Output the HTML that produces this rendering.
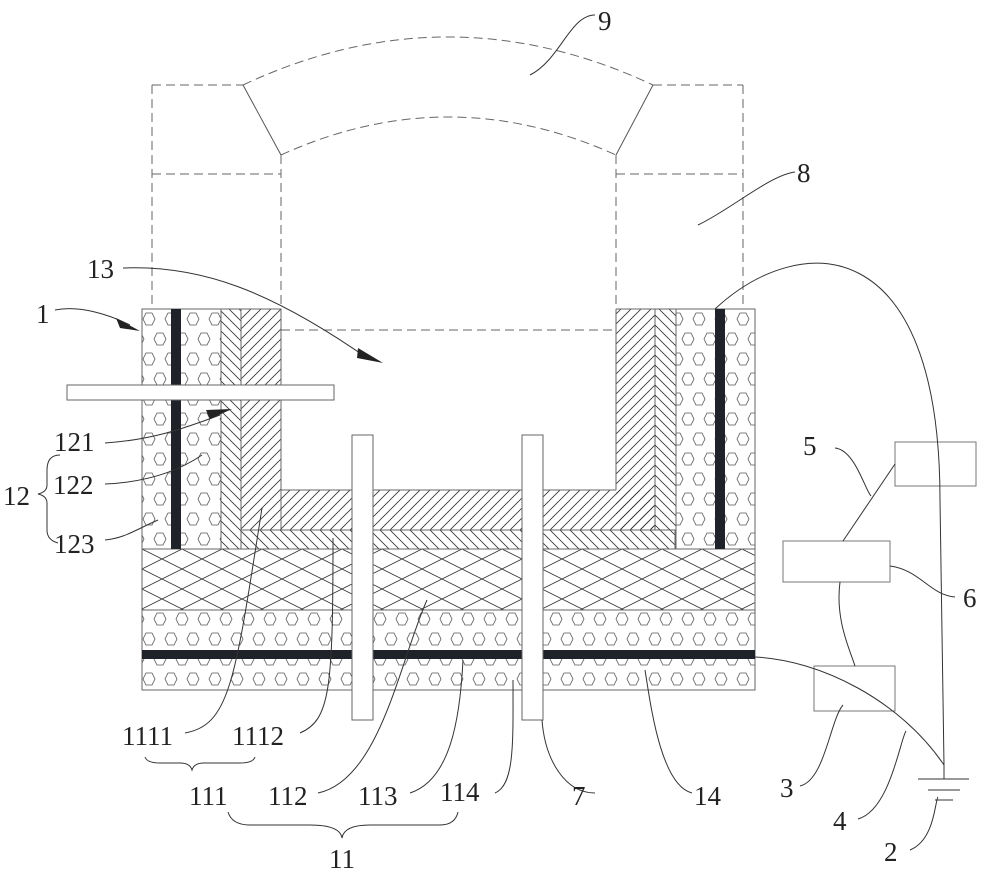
<!DOCTYPE html>
<html><head><meta charset="utf-8"><style>
html,body{margin:0;padding:0;background:#fff;}
svg{display:block;}
text{font-family:"Liberation Serif",serif;font-size:27px;fill:#222;}
</style></head><body>
<svg width="1000" height="877" viewBox="0 0 1000 877" xmlns="http://www.w3.org/2000/svg">
<defs>
<pattern id="hex" width="22" height="40" patternUnits="userSpaceOnUse" x="142" y="312">
<polygon points="4,1 10,1 13,7 10,13 4,13 1,7" fill="none" stroke="#555" stroke-width="0.8"/>
<polygon points="15,21 21,21 24,27 21,33 15,33 12,27" fill="none" stroke="#555" stroke-width="0.8"/>
<polygon points="-7,21 -1,21 2,27 -1,33 -7,33 -10,27" fill="none" stroke="#555" stroke-width="0.8"/>
</pattern>
<pattern id="fw" width="10" height="10" patternUnits="userSpaceOnUse">
<path d="M-2,12 L12,-2 M-2,2 L2,-2 M8,12 L12,8" stroke="#333" stroke-width="0.8"/>
</pattern>
<pattern id="bw" width="10" height="10" patternUnits="userSpaceOnUse">
<path d="M-2,-2 L12,12 M-2,8 L2,12 M8,-2 L12,2" stroke="#333" stroke-width="0.8"/>
</pattern>
<pattern id="cross" width="40" height="20" patternUnits="userSpaceOnUse" x="142" y="549">
<path d="M0,0 L40,20 M0,20 L40,0" stroke="#333" stroke-width="0.8" fill="none"/>
</pattern>
</defs>

<g stroke="#666" stroke-width="1" fill="none" stroke-dasharray="9,5">
<path d="M152,85 L152,309 M743,85 L743,309"/>
<path d="M152,85 L243,85 M653,85 L743,85"/>
<path d="M152,174 L281,174 M616,174 L743,174"/>
<path d="M281,155 L281,330 M616,155 L616,309"/>
<path d="M281,330 L616,330"/>
<path d="M243,85 Q448,-11 653,85"/>
<path d="M281,155 Q448,79 616,155"/>
</g>
<path d="M243,85 L281,155 M653,85 L616,155" stroke="#555" stroke-width="1"/>

<g stroke="#666" stroke-width="1">
<rect x="142" y="549" width="613" height="61" fill="url(#cross)"/>
<rect x="142" y="610" width="613" height="80" fill="url(#hex)"/>
<rect x="142" y="309" width="79" height="240" fill="url(#hex)"/>
<rect x="221" y="309" width="20" height="240" fill="url(#bw)"/>
<rect x="241" y="309" width="40" height="221" fill="url(#fw)"/>
<rect x="281" y="490" width="374" height="40" fill="url(#fw)" stroke="none"/>
<rect x="241" y="530" width="434" height="19" fill="url(#bw)"/>
<path d="M281,490 L616,490" fill="none"/>
<rect x="616" y="309" width="39" height="221" fill="url(#fw)" stroke="none"/>
<path d="M616,309 L616,490 M655,309 L655,530 M241,530 L655,530" fill="none"/>
<rect x="655" y="309" width="21" height="221" fill="url(#bw)" stroke="none"/>
<rect x="676" y="309" width="79" height="240" fill="url(#hex)"/>
<path d="M616,309 L676,309 M281,309 L281,490" fill="none"/>
</g>

<rect x="171" y="309" width="10" height="76" fill="#1f2228"/>
<rect x="171" y="400" width="10" height="149" fill="#1f2228"/>
<rect x="715" y="309" width="10" height="240" fill="#1f2228"/>
<rect x="142" y="650" width="613" height="9" fill="#1f2228"/>

<rect x="67" y="385" width="267" height="15" fill="#fff" stroke="#666"/>
<rect x="352" y="435" width="21" height="285" fill="#fff" stroke="#666"/>
<rect x="522" y="435" width="21" height="285" fill="#fff" stroke="#666"/>

<g fill="#fff" stroke="#777" stroke-width="1">
<rect x="895" y="442" width="81" height="44"/>
<rect x="783" y="541" width="107" height="41"/>
<rect x="814" y="666" width="81" height="45"/>
</g>
<g fill="none" stroke="#333" stroke-width="1">
<path d="M715,309 C800,230 940,230 940,500 L944,765"/>
<path d="M755,657 C820,660 900,700 944,765"/>
<path d="M944,765 L944,779"/>
<path d="M918,779 L969,779 M928,790 L960,790 M935,800 L953,800"/>
<path d="M895,464 L843,541"/>
<path d="M840,582 C835,620 850,650 855,666"/>
<path d="M835,448 C855,450 865,490 871,496"/>
<path d="M890,566 C920,570 930,595 955,597"/>
<path d="M800,786 C825,780 830,720 843,705"/>
<path d="M858,819 C890,810 900,740 906,731"/>
<path d="M910,850 C935,840 935,800 938,797"/>
<path d="M530,75 C560,60 570,15 595,15"/>
<path d="M698,225 C730,210 770,175 795,172"/>
<path d="M55,310 C80,305 110,315 130,325"/>
<path d="M123,268 C200,265 270,290 370,360"/>
<path d="M105,443 C150,440 180,430 220,415"/>
<path d="M105,484 C150,482 180,470 202,455"/>
<path d="M105,540 C125,538 135,530 158,520"/>
<path d="M185,733 C230,725 235,680 262,508"/>
<path d="M300,733 C330,720 333,690 333,538"/>
<path d="M318,793 C380,780 400,660 427,600"/>
<path d="M410,793 C450,780 460,720 463,660"/>
<path d="M495,793 C515,785 513,740 513,680"/>
<path d="M595,793 C565,793 545,760 542,720"/>
<path d="M692,793 C660,785 650,700 645,670"/>
<path d="M145,757 Q147,763 160,763 L180,763 Q190,763 192,770 Q194,763 204,763 L240,763 Q253,763 255,757"/>
<path d="M228,812 Q232,825 250,825 L310,825 Q340,825 342,838 Q344,825 370,825 L440,825 Q455,825 458,812"/>
<path d="M60,455 Q47,455 47,470 L47,485 Q47,492 38,494 Q47,496 47,503 L47,530 Q47,540 58,543"/>
</g>
<polygon points="140,331 116,318 120,328" fill="#222"/>
<polygon points="383,363 358,348 357,358" fill="#222"/>
<polygon points="232,409 206,410 210,419" fill="#222"/>

<text x="598" y="30">9</text>
<text x="797" y="182">8</text>
<text x="87" y="278">13</text>
<text x="36" y="323">1</text>
<text x="54" y="451">121</text>
<text x="53" y="494">122</text>
<text x="3" y="505">12</text>
<text x="54" y="553">123</text>
<text x="803" y="455">5</text>
<text x="963" y="607">6</text>
<text x="780" y="797">3</text>
<text x="833" y="830">4</text>
<text x="884" y="861">2</text>
<text x="122" y="745">1111</text>
<text x="232" y="745">1112</text>
<text x="189" y="805">111</text>
<text x="268" y="805">112</text>
<text x="358" y="805">113</text>
<text x="440" y="801">114</text>
<text x="572" y="805">7</text>
<text x="694" y="805">14</text>
<text x="329" y="868">11</text>
</svg>
</body></html>
